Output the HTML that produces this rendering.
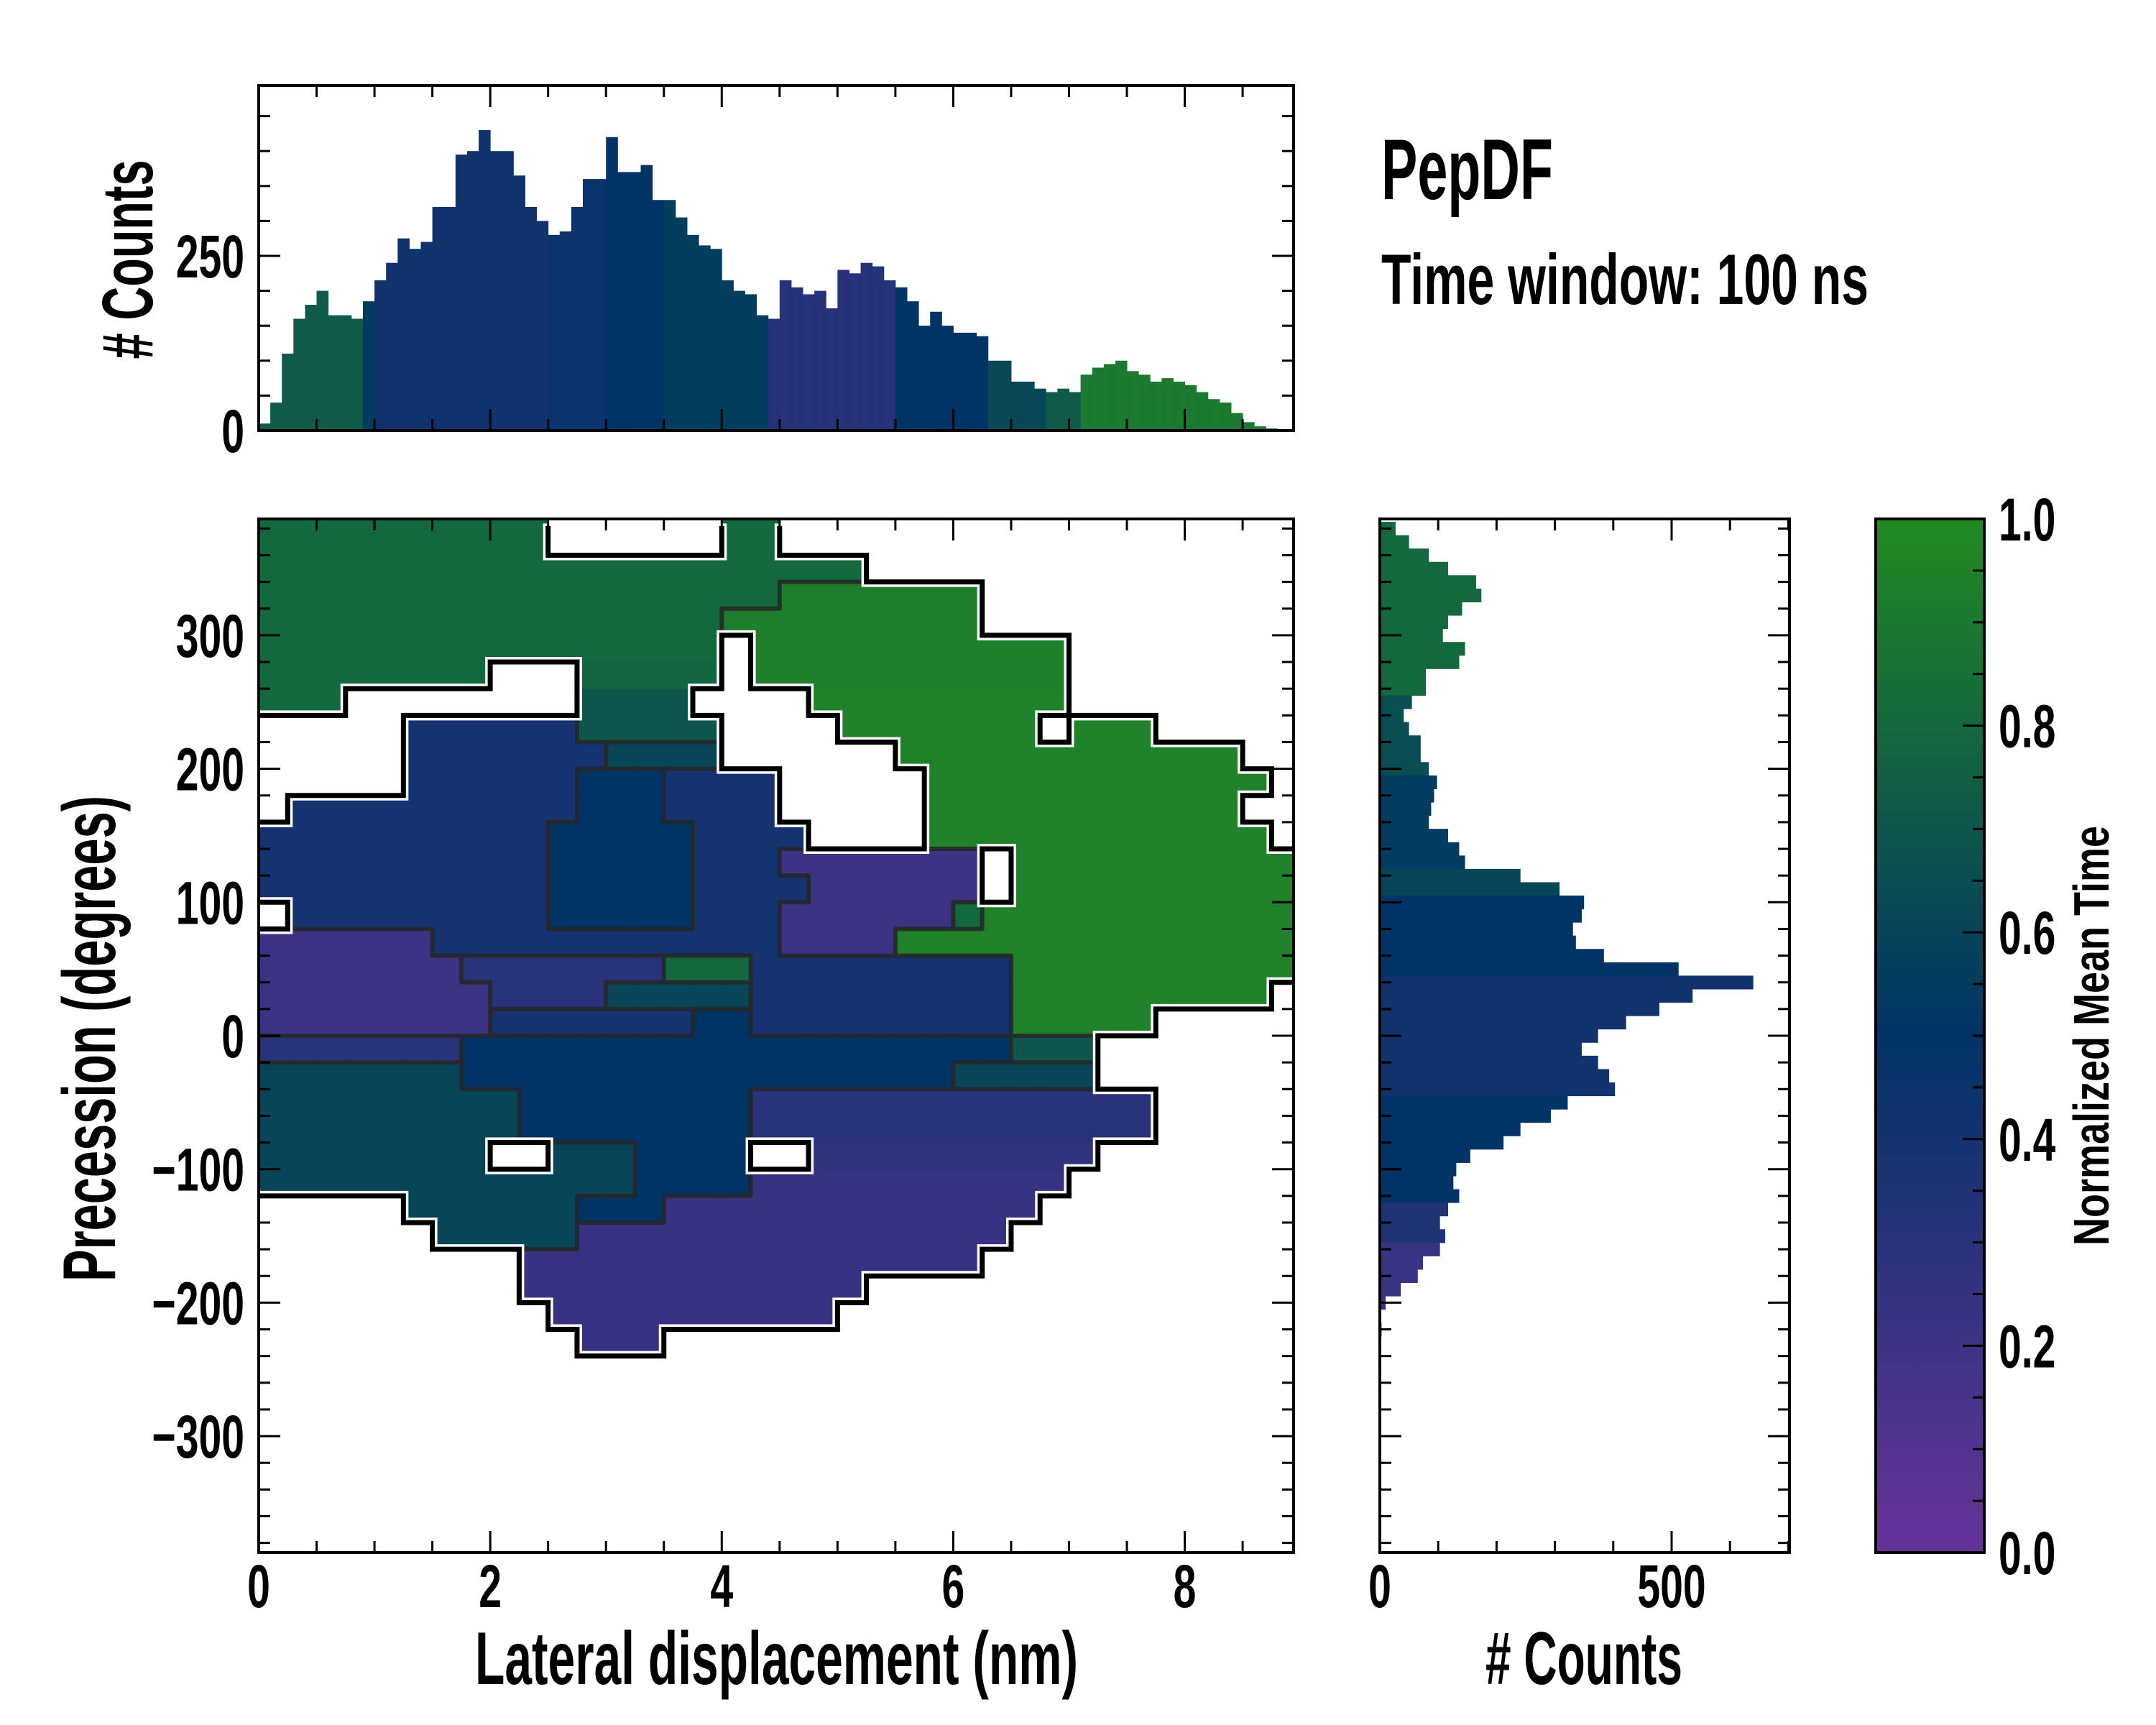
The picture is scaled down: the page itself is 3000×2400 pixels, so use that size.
<!DOCTYPE html>
<html><head><meta charset="utf-8"><title>PepDF</title>
<style>html,body{margin:0;padding:0;background:#fff}svg{display:block}text{font-family:"Liberation Sans Narrow","Liberation Sans",sans-serif;font-weight:bold;fill:#000}</style>
</head><body>
<svg id="chart" width="3000" height="2400" viewBox="0 0 3000 2400" xmlns="http://www.w3.org/2000/svg">
<defs><clipPath id="mainClip"><rect x="360" y="722" width="1440" height="1438"/></clipPath></defs>
</svg>
<script>
// ---------- data ----------
const topBinStart = 0, topBinWidth = 0.1;
const topCounts = [10,40,110,160,180,200,165,165,160,185,215,240,275,260,270,320,320,395,400,430,400,400,365,320,300,280,285,320,360,360,420,370,370,380,330,330,305,280,265,260,215,200,195,165,160,215,205,195,200,175,230,225,240,235,215,205,185,150,170,150,140,140,135,100,100,70,70,60,55,60,55,80,90,95,100,85,80,70,75,70,65,55,45,40,25,12,6,3,1];
const topTime = [0.72,0.72,0.72,0.72,0.72,0.72,0.72,0.72,0.72,0.55,0.42,0.42,0.42,0.42,0.42,0.42,0.42,0.42,0.42,0.42,0.42,0.42,0.42,0.42,0.42,0.45,0.45,0.45,0.45,0.45,0.5,0.5,0.5,0.5,0.5,0.56,0.56,0.56,0.56,0.56,0.56,0.56,0.56,0.56,0.32,0.32,0.32,0.32,0.32,0.32,0.32,0.32,0.32,0.32,0.32,0.5,0.5,0.5,0.5,0.5,0.5,0.5,0.5,0.62,0.62,0.62,0.62,0.62,0.72,0.72,0.72,0.9,0.9,0.9,0.9,0.9,0.9,0.9,0.9,0.9,0.9,0.9,0.9,0.9,0.9,0.9,0.9,0.9,0.9];
const rightBinTop = 380, rightBinStep = 10;
const rightCounts = [27,50,84,117,165,174,141,117,108,146,136,79,79,55,41,50,70,70,84,98,93,88,84,117,136,146,241,308,350,346,331,336,384,512,640,536,479,422,374,346,374,393,403,322,293,241,212,155,131,126,136,117,103,112,103,74,65,36,10,0,3];
const rightTime = [0.8,0.8,0.8,0.8,0.8,0.8,0.8,0.8,0.8,0.8,0.8,0.8,0.8,0.65,0.65,0.65,0.65,0.65,0.65,0.55,0.55,0.55,0.55,0.55,0.55,0.55,0.6,0.6,0.5,0.5,0.5,0.5,0.5,0.5,0.42,0.42,0.42,0.42,0.42,0.42,0.42,0.42,0.42,0.5,0.5,0.5,0.5,0.5,0.5,0.5,0.5,0.35,0.35,0.35,0.22,0.22,0.22,0.22,0.22,0.22,0.22];
// heatmap: rows of 20 deg from 380 downward, columns of 0.25 nm; segments [colStart, colEnd, meanTime*10]
const heatTop = 380, heatRowH = 20, heatColW = 0.25, heatCols = 36;
const heatRows = [
 [[0,9,8],[16,17,8]],
 [[0,20,8]],
 [[0,10,8],[11,17,8],[18,24,9.3]],
 [[0,15,8],[16,24,9.3]],
 [[0,15,8],[17,27,9.4]],
 [[0,7,8],[11,15,7.8],[17,27,9.4]],
 [[0,2,8],[11,14,7],[19,27,9.5]],
 [[5,10,4],[11,15,7],[20,26,9.5],[28,30,9.5]],
 [[5,11,4],[12,15,6],[22,33,9.5]],
 [[5,10,4],[11,13,5],[14,17,4],[23,34,9.5]],
 [[1,10,4],[11,13,5],[14,17,4],[23,33,9.5]],
 [[0,9,4],[10,14,5],[15,18,4],[23,34,9.5]],
 [[0,9,4],[10,14,5],[15,17,4],[18,24,2],[26,35,9.5]],
 [[0,9,4],[10,14,5],[15,18,4],[19,24,2],[26,35,9.5]],
 [[1,9,4],[10,14,5],[15,17,4],[18,23,2],[24,24,8],[25,35,9.5]],
 [[0,5,2],[6,17,4],[18,21,2],[22,35,9.5]],
 [[0,6,2],[7,13,3],[14,16,8],[17,25,4],[26,35,9.5]],
 [[0,7,2],[8,11,3],[12,16,6],[17,25,4],[26,34,9.5]],
 [[0,7,2],[8,14,4],[15,16,5],[17,25,4],[26,30,9.5]],
 [[0,6,3],[7,25,5],[26,28,7]],
 [[0,6,6],[7,23,5],[24,28,6]],
 [[0,8,6],[9,16,5],[17,30,3]],
 [[0,8,6],[9,16,5],[17,30,3]],
 [[0,7,6],[10,12,6],[13,16,5],[19,28,2.6]],
 [[0,12,6],[13,16,5],[17,27,2.4]],
 [[5,10,6],[11,13,5],[14,26,2.3]],
 [[6,10,6],[11,25,2.3]],
 [[9,24,2.3]],
 [[9,20,2.3]],
 [[10,19,2.3]],
 [[11,13,2.3]]
];
const mainXTicks = [0,2,4,6,8];
const mainYTicks = [300,200,100,0,-100,-200,-300];
const mainYLabels = ['300','200','100','0','\u2212100','\u2212200','\u2212300'];
const topYTicks = [0,250];
const rightXTicks = [0,500];
const cbTicks = [0,0.2,0.4,0.6,0.8,1.0];
const cbLabels = ['0.0','0.2','0.4','0.6','0.8','1.0'];

// ---------- scales ----------
const X = v => 360 + v*161.07;
const Y = d => 1441 - d*1.857;
const Yt = c => 599 - c*0.972;
const Xr = c => 1920 + c*0.812;
const Yc = v => 2160 - v*1438;

const NS = 'http://www.w3.org/2000/svg';
const svg = document.getElementById('chart');
function mk(tag, attrs, parent){const e=document.createElementNS(NS,tag);for(const k in attrs)e.setAttribute(k,attrs[k]);(parent||svg).appendChild(e);return e;}
function cmap(v){
  v=Math.max(0,Math.min(1,v));
  const s=[[0,[102,51,153]],[0.5,[0,51,102]],[1,[34,139,34]]];
  let a=s[0],b=s[1]; if(v>0.5){a=s[1];b=s[2];}
  const t=(v-a[0])/(b[0]-a[0]);
  const c=a[1].map((x,i)=>Math.round(x+(b[1][i]-x)*t));
  return 'rgb('+c.join(',')+')';
}
function txt(x,y,s,size,anchor,sx,rot,len){
  const e=mk('text',{x:0,y:0,'font-size':size,'text-anchor':anchor||'start',transform:'translate('+x+','+y+')'+(rot?' rotate('+rot+')':'')+' scale('+(sx||1)+',1)'});
  if(len){e.setAttribute('textLength',len);e.setAttribute('lengthAdjust','spacingAndGlyphs');}
  e.textContent=s;return e;
}
function tick(x1,y1,x2,y2){return mk('line',{x1:x1,y1:y1,x2:x2,y2:y2,stroke:'#000','stroke-width':3});}

// ---------- heatmap ----------
const heatG = mk('g',{'clip-path':'url(#mainClip)'});


const filled = heatRows.map(()=>new Array(heatCols).fill(false));
const vals = heatRows.map(()=>new Array(heatCols).fill(null));
heatRows.forEach((segs,r)=>{
  segs.forEach(seg=>{
    for(let c=seg[0];c<=seg[1];c++){
      filled[r][c]=true; vals[r][c]=seg[2];
      const yTop = r===0 ? 390 : heatTop - r*heatRowH;
      const yBot = heatTop - (r+1)*heatRowH;
      const cell = mk('rect',{x:X(c*heatColW),y:Y(yTop),width:X((c+1)*heatColW)-X(c*heatColW)+0.6,height:Y(yBot)-Y(yTop)+0.6,fill:cmap(seg[2]/10)},heatG);
      
      
    }
  });
});
// interior contours where mean time changes
let id='';
for(let r=0;r<heatRows.length;r++){for(let c=0;c<heatCols;c++){ if(!filled[r][c])continue;
  const x0=X(c*heatColW),x1=X((c+1)*heatColW),y0=Y(heatTop-r*heatRowH),y1=Y(heatTop-(r+1)*heatRowH);
  if(r<heatRows.length-1 && filled[r+1][c] && Math.abs(vals[r+1][c]-vals[r][c])>=1) id+='M'+x0+' '+y1+'L'+x1+' '+y1;
  if(c<heatCols-1 && filled[r][c+1] && Math.abs(vals[r][c+1]-vals[r][c])>=1) id+='M'+x1+' '+y0+'L'+x1+' '+y1;
}}
const inner = mk('path',{d:id,stroke:'#262626','stroke-width':6,fill:'none','stroke-linecap':'round','opacity':0.85},heatG);


// outline from data
let od='';
for(let r=0;r<heatRows.length;r++){for(let c=0;c<heatCols;c++){ if(!filled[r][c])continue;
  const x0=X(c*heatColW),x1=X((c+1)*heatColW),y0=Y(heatTop-r*heatRowH),y1=Y(heatTop-(r+1)*heatRowH);
  if(r>0 && !filled[r-1][c]) od+='M'+x0+' '+y0+'L'+x1+' '+y0;
  if(r===heatRows.length-1 || !filled[r+1][c]) od+='M'+x0+' '+y1+'L'+x1+' '+y1;
  if(c>0 && !filled[r][c-1]) od+='M'+x0+' '+y0+'L'+x0+' '+y1;
  if(c<heatCols-1 && !filled[r][c+1]) od+='M'+x1+' '+y0+'L'+x1+' '+y1;
}}
const halo = mk('path',{d:od,stroke:'#fff','stroke-width':14,fill:'none','stroke-linecap':'square'},heatG);


const outline = mk('path',{d:od,stroke:'#000','stroke-width':7,fill:'none','stroke-linecap':'square'},heatG);



// ---------- top histogram ----------
const topG = mk('g',{});


topCounts.forEach((v,i)=>{
  const x0=X(topBinStart+i*topBinWidth), x1=X(topBinStart+(i+1)*topBinWidth);
  const b=mk('rect',{x:x0,y:Yt(v),width:x1-x0+0.5,height:Yt(0)-Yt(v),fill:cmap(topTime[i])},topG);
  
  
});

// ---------- right histogram ----------
const rG = mk('g',{});


rightCounts.forEach((v,i)=>{
  const d=rightBinTop-i*rightBinStep;
  const yTop=Y(d+rightBinStep/2), yBot=Y(d-rightBinStep/2);
  const b=mk('rect',{x:Xr(0),y:yTop,width:Xr(v)-Xr(0),height:yBot-yTop+0.5,fill:cmap(rightTime[i])},rG);
  
  
});

// ---------- colorbar ----------
const grad = mk('linearGradient',{id:'cbGrad',x1:0,y1:1,x2:0,y2:0},svg.querySelector('defs'));
for(let k=0;k<=10;k++){mk('stop',{offset:k/10,'stop-color':cmap(k/10)},grad);}
const cb = mk('rect',{x:2610,y:722,width:151,height:1438,fill:'url(#cbGrad)',stroke:'#000','stroke-width':4});


for(let v=0;v<=1.0001;v+=0.05){const major=Math.abs(v*5-Math.round(v*5))<1e-6; if(v>0.001&&v<0.999) tick(2761,Yc(v),2761-(major?30:16),Yc(v));}
cbTicks.forEach((v,i)=>{const t=txt(2781,Yc(v)+30,cbLabels[i],84,'start',0.68);
  
  });
const cbt = txt(2934,1441,'Normalized Mean Time',70,'middle',1,-90,584);



// ---------- axes frames & ticks ----------
function frame(x,y,w,h,name){const r=mk('rect',{x:x,y:y,width:w,height:h,fill:'none',stroke:'#000','stroke-width':4});}
frame(360,722,1440,1438,'main-axes-frame');
frame(360,119,1440,480,'top-hist-frame');
frame(1920,722,570,1438,'right-hist-frame');
for(let v=0.5;v<8.94;v+=0.5){const major=Math.abs(v/2-Math.round(v/2))<1e-6;const L=major?30:16;
  tick(X(v),2160,X(v),2160-L);tick(X(v),722,X(v),722+L);tick(X(v),599,X(v),599-L);tick(X(v),119,X(v),119+L);}
for(let d=-380;d<=380;d+=20){const major=d%100===0;const L=major?30:16;
  tick(360,Y(d),360+L,Y(d));tick(1800,Y(d),1800-L,Y(d));tick(1920,Y(d),1920+L,Y(d));tick(2490,Y(d),2490-L,Y(d));}
for(let c=50;c<=450;c+=50){const major=c%250===0;const L=major?30:16;tick(360,Yt(c),360+L,Yt(c));tick(1800,Yt(c),1800-L,Yt(c));}
for(let c=100;c<=700;c+=100){const major=c%500===0;const L=major?30:16;tick(Xr(c),2160,Xr(c),2160-L);tick(Xr(c),722,Xr(c),722+L);}

// ---------- tick labels ----------
mainXTicks.forEach(v=>{const t=txt(X(v),2236,String(v),84,'middle',0.68);});
mainYTicks.forEach((d,i)=>{const t=txt(340,Y(d)+30,mainYLabels[i],84,'end',0.68);});
topYTicks.forEach(c=>{const t=txt(340,Yt(c)+30,String(c),84,'end',0.68);});
rightXTicks.forEach(c=>{const t=txt(Xr(c),2236,String(c),84,'middle',0.68);});

// ---------- titles / axis labels ----------
const xl=txt(661,2343,'Lateral displacement (nm)',104,'start',1,0,839);


const yl=txt(160,1445,'Precession (degrees)',104,'middle',1,-90,676);


const tyl=txt(212,361,'# Counts',100,'middle',1,-90,277);


const rxl=txt(2067,2343,'# Counts',104,'start',1,0,274);


const t1=txt(1922,277,'PepDF',120,'start',1,0,239);


const t2=txt(1922,423,'Time window: 100 ns',99,'start',1,0,678);


</script>
</body></html>
